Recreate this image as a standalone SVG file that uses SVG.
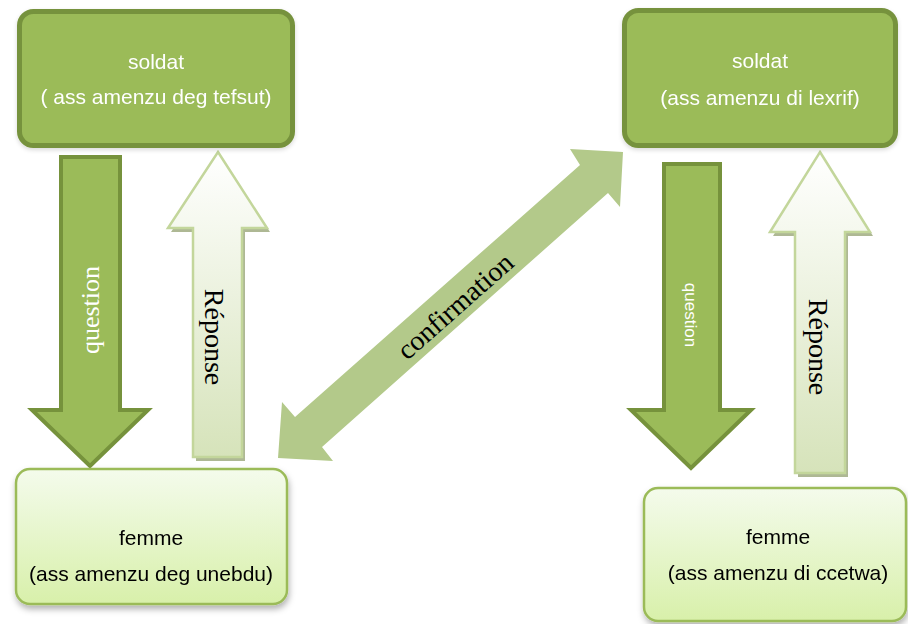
<svg xmlns="http://www.w3.org/2000/svg" width="908" height="624" viewBox="0 0 908 624">
<defs>
<style>
.soldat{fill:#9BBB59;stroke:#76923C;stroke-width:5}
.femme{fill:url(#gFemme);stroke:#9BBB59;stroke-width:2.5}
.qarrow{fill:#9BBB59;stroke:#76923C;stroke-width:4;stroke-linejoin:miter}
.rarrow{fill:url(#gRep);stroke:#C3D69B;stroke-width:2.5}
.rshadow{fill:#AEB894}
.conf{fill:#B3C98A}
.bt{font-family:"Liberation Sans",Arial,sans-serif;font-size:21px;text-anchor:middle}
.w{fill:#FFFFFF}
.k{fill:#000000}
.serif{font-family:"Liberation Serif","Times New Roman",serif;text-anchor:middle;dominant-baseline:central}
.small{font-family:"Liberation Sans",Arial,sans-serif;font-size:17px;text-anchor:middle;dominant-baseline:central}
</style>
<linearGradient id="gFemme" x1="0" y1="0" x2="0" y2="1">
<stop offset="0" stop-color="#F4FBEC"/>
<stop offset="1" stop-color="#D8F0AA"/>
</linearGradient>
<linearGradient id="gRep" x1="0" y1="0" x2="0" y2="1">
<stop offset="0" stop-color="#FFFFFF"/>
<stop offset="1" stop-color="#D6E3BA"/>
</linearGradient>
<filter id="sh" x="-10%" y="-10%" width="125%" height="130%">
<feDropShadow dx="1" dy="4" stdDeviation="3" flood-color="#000" flood-opacity="0.3"/>
</filter>
<filter id="sh2" x="-10%" y="-10%" width="125%" height="130%">
<feDropShadow dx="0" dy="2" stdDeviation="2" flood-color="#000" flood-opacity="0.15"/>
</filter>
</defs>
<rect width="908" height="624" fill="#FFFFFF"/>

<g id="connectors">
<g id="question-left">
<path class="qarrow" d="M61,157 L120,157 L120,410 L148,410 L90,466 L32,410 L61,410 Z"/>
<text class="serif w" font-size="26" transform="translate(90,310) rotate(-90)">question</text>
</g>
<g id="reponse-left">
<path class="rshadow" d="M221,156 L270,232 L245,232 L245,461 L196,461 L196,232 L171,232 Z"/>
<path class="rarrow" d="M218,152 L267,228 L242,228 L242,457 L193,457 L193,228 L168,228 Z"/>
<text class="serif k" font-size="28" transform="translate(214,337) rotate(90)">Réponse</text>
</g>
<g id="confirmation">
<path class="conf" d="M278,458 L282,402 L295,417 L580,165 L570,149 L623,152 L620,207 L608,193 L322,447 L333,461 Z"/>
<text class="serif k" font-size="28" transform="translate(455,306) rotate(-41.5)">confirmation</text>
</g>
<g id="question-right">
<path class="qarrow" d="M664,164 L720,164 L720,410 L751,410 L691,468 L631,410 L664,410 Z"/>
<text class="small w" transform="translate(690,315) rotate(90)">question</text>
</g>
<g id="reponse-right">
<path class="rshadow" d="M823,156 L873,236 L848,236 L848,477 L798,477 L798,236 L773,236 Z"/>
<path class="rarrow" d="M820,152 L870,232 L845,232 L845,473 L795,473 L795,232 L770,232 Z"/>
<text class="serif k" font-size="28" transform="translate(818,347) rotate(90)">Réponse</text>
</g>
</g>

<g id="soldat-left" filter="url(#sh2)">
<rect class="soldat" x="19.5" y="11.5" width="273" height="134" rx="14"/>
<text class="bt w" x="156" y="69">soldat</text>
<text class="bt w" x="156" y="104">( ass amenzu deg tefsut)</text>
</g>
<g id="soldat-right" filter="url(#sh2)">
<rect class="soldat" x="624.5" y="10.5" width="271" height="135" rx="14"/>
<text class="bt w" x="760" y="68">soldat</text>
<text class="bt w" x="760" y="105">(ass amenzu di lexrif)</text>
</g>
<g id="femme-left" filter="url(#sh)">
<rect class="femme" x="16" y="469" width="271" height="135" rx="14"/>
<text class="bt k" x="151" y="545">femme</text>
<text class="bt k" x="151" y="581">(ass amenzu deg unebdu)</text>
</g>
<g id="femme-right" filter="url(#sh)">
<rect class="femme" x="644" y="488" width="262" height="133" rx="14"/>
<text class="bt k" x="778" y="544">femme</text>
<text class="bt k" x="778" y="580">(ass amenzu di ccetwa)</text>
</g>
</svg>
